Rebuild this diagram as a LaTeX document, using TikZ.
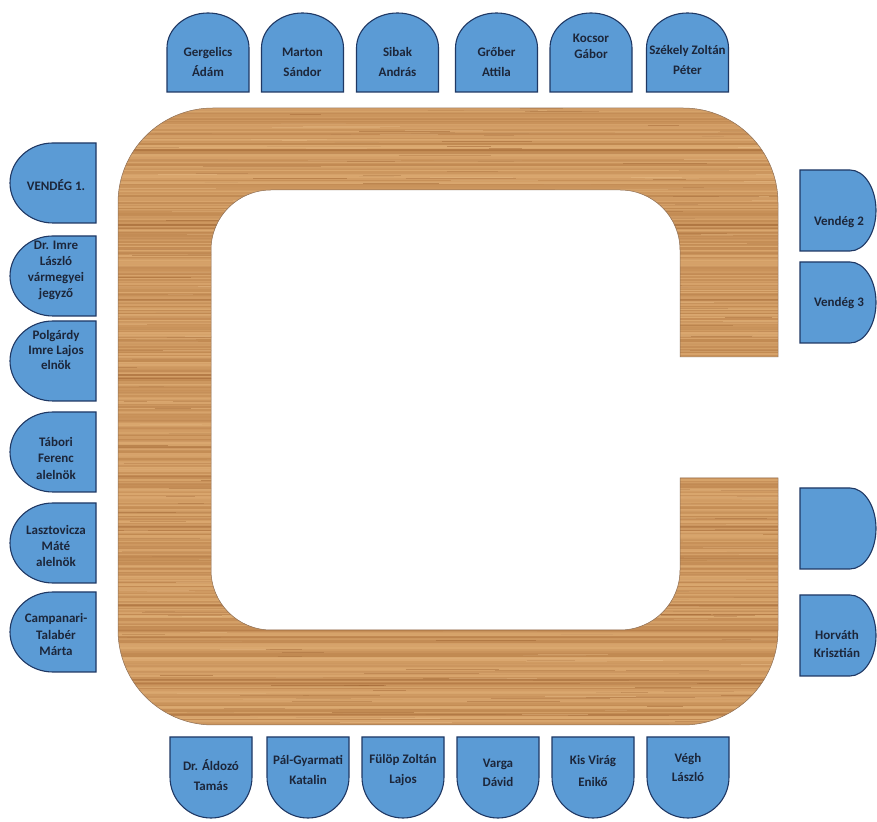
\documentclass[tikz,border=0pt]{standalone}
\usepackage{fontspec}
\setmainfont{Carlito}
\definecolor{seatfill}{RGB}{91,155,213}
\definecolor{seatline}{RGB}{31,56,100}
\definecolor{textc}{RGB}{28,38,58}
\definecolor{woodlight}{RGB}{234,190,136}
\definecolor{woodmid}{RGB}{212,158,100}
\definecolor{wooddark}{RGB}{158,98,48}
\newcommand{\TopSeat}[5]{%
  \draw[seat] (#2-41,729) -- (#2-41,773) arc[start angle=180,end angle=0,x radius=41,y radius=35] -- (#2+41,729) -- cycle;
  \node[lbl=#4] (#1) at (#2,#3) {#5};}
\newcommand{\BotSeat}[5]{%
  \draw[seat] (#2-41,84) -- (#2-41,44) arc[start angle=180,end angle=360,x radius=41,y radius=41] -- (#2+41,84) -- cycle;
  \node[lbl=#4] (#1) at (#2,#3) {#5};}
\newcommand{\LeftSeat}[5]{%
  \draw[seat] (96,#2-80) -- (96,#2) -- (53,#2) arc[start angle=90,end angle=270,x radius=43,y radius=40] -- cycle;
  \node[lbl=#4] (#1) at (56,#3) {#5};}
\newcommand{\RightSeatShape}[1]{%
  \draw[seat] (800,#1-81) -- (800,#1) -- (850,#1) arc[start angle=90,end angle=-90,x radius=26,y radius=40.5] -- cycle;}
\begin{document}
\begin{tikzpicture}[x=1pt,y=1pt,
  seat/.style={fill=seatfill,draw=seatline,line width=1.1pt},
  lbl/.style={inner sep=0pt,align=center,text=textc,font=\bfseries\fontsize{13}{#1}\selectfont},
  lbl/.default=20]
\useasboundingbox (0,0) rectangle (877,821);
\fill[white] (0,0) rectangle (877,821);
% table
\begin{scope}
\clip (778,464) -- (778,618) arc[start angle=0,end angle=90,radius=95] -- (213,713)
  arc[start angle=90,end angle=180,radius=95] -- (118,191)
  arc[start angle=180,end angle=270,radius=95] -- (683,96)
  arc[start angle=270,end angle=360,radius=95] -- (778,343) -- (680,343) -- (680,251)
  arc[start angle=0,end angle=-90,radius=60] -- (271,191)
  arc[start angle=270,end angle=180,radius=60] -- (211,571)
  arc[start angle=180,end angle=90,radius=60] -- (620,631)
  arc[start angle=90,end angle=0,radius=60] -- (680,464) -- cycle;
\fill[woodmid] (118,96) rectangle (778,713);
\pgfmathsetseed{12}
\foreach \yy in {96,97.4,...,713} {
  \pgfmathsetmacro\m{int(100*rnd)}
  \draw[line width=1.5pt, color=woodlight!\m!wooddark, opacity=0.35] (118,\yy) -- (778,\yy);
}
\foreach \i in {1,...,450} {
  \pgfmathsetmacro\sx{100+660*rnd}
  \pgfmathsetmacro\sy{96+617*rnd}
  \pgfmathsetmacro\sl{20+100*rnd}
  \pgfmathsetmacro\sc{int(100*rnd)}
  \draw[line width=0.6pt, color=wooddark!\sc!woodlight, opacity=0.5] (\sx,\sy) -- ++(\sl,0);
}
\foreach \b in {150,225,300,375,447,527,605,680} {
  \draw[wooddark, line width=2.5pt, opacity=0.45] (118,821-\b) -- (778,821-\b);
  \draw[wooddark, line width=1pt, opacity=0.3] (118,821-\b-4) -- (778,821-\b-4);
}
\end{scope}
\draw[line width=0.5pt, color=wooddark!50!gray] (778,464) -- (778,618) arc[start angle=0,end angle=90,radius=95] -- (213,713)
  arc[start angle=90,end angle=180,radius=95] -- (118,191)
  arc[start angle=180,end angle=270,radius=95] -- (683,96)
  arc[start angle=270,end angle=360,radius=95] -- (778,343) -- (680,343) -- (680,251)
  arc[start angle=0,end angle=-90,radius=60] -- (271,191)
  arc[start angle=270,end angle=180,radius=60] -- (211,571)
  arc[start angle=180,end angle=90,radius=60] -- (620,631)
  arc[start angle=90,end angle=0,radius=60] -- (680,464) -- cycle;
% top seats
\TopSeat{t1}{208}{759}{20}{Gergelics\\Ádám}
\TopSeat{t2}{302.5}{759}{20}{Marton\\Sándor}
\TopSeat{t3}{397.5}{759}{20}{Sibak\\András}
\TopSeat{t4}{496.5}{759}{20}{Grőber\\Attila}
\TopSeat{t5}{591}{775}{16}{Kocsor\\Gábor}
\TopSeat{t6}{687.5}{761}{20}{Székely Zoltán\\Péter}
% left seats
\LeftSeat{l1}{678}{636}{16}{VENDÉG 1.}
\LeftSeat{l2}{585}{551}{16}{Dr. Imre\\László\\vármegyei\\jegyző}
\LeftSeat{l3}{500}{471.5}{15}{Polgárdy\\Imre Lajos\\elnök}
\LeftSeat{l4}{409}{363}{16.5}{Tábori\\Ferenc\\alelnök}
\LeftSeat{l5}{318}{275}{16}{Lasztovicza\\Máté\\alelnök}
\LeftSeat{l6}{229}{186.5}{16.5}{Campanari-\\Talabér\\Márta}
% right seats
\RightSeatShape{651}
\node[lbl] (r1) at (839,599) {Vendég 2};
\RightSeatShape{559}
\node[lbl] (r2) at (839,518) {Vendég 3};
\RightSeatShape{333}
\RightSeatShape{226}
\node[lbl=18] (r4) at (837,177) {Horváth\\Krisztián};
% bottom seats
\BotSeat{b1}{211}{46}{20}{Dr. Áldozó\\Tamás}
\BotSeat{b2}{308}{51}{20}{Pál-Gyarmati\\Katalin}
\BotSeat{b3}{403}{51}{20}{Fülöp Zoltán\\Lajos}
\BotSeat{b4}{498}{48.5}{19}{Varga\\Dávid}
\BotSeat{b5}{593}{50}{22}{Kis Virág\\Enikő}
\BotSeat{b6}{688}{53.5}{19}{Végh\\László}
\end{tikzpicture}
\end{document}
